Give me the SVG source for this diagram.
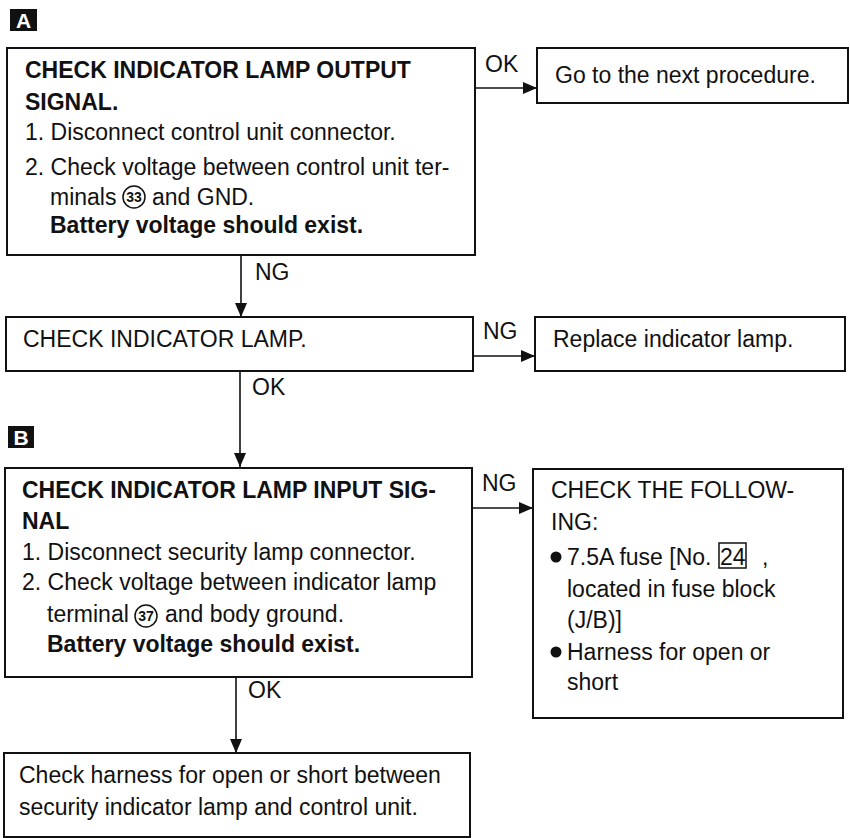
<svg xmlns="http://www.w3.org/2000/svg" width="850" height="838" viewBox="0 0 850 838">
<style>
text{font-family:"Liberation Sans",Arial,Helvetica,sans-serif;font-size:23px;fill:#111}
.b{font-weight:bold}
.box{fill:#fff;stroke:#111;stroke-width:2}
.ln{stroke:#111;stroke-width:1.6;fill:none}
.lbl{fill:#fff;font-weight:bold;font-size:21px}
.circ{fill:none;stroke:#111;stroke-width:1.5}
.num{font-size:14px;font-weight:bold}
</style>
<defs>
<marker id="ah" viewBox="0 0 14 12" refX="14" refY="6" markerWidth="14" markerHeight="12" markerUnits="userSpaceOnUse" orient="auto">
<path d="M0,0 L14,6 L0,12 Z" fill="#111"/>
</marker>
</defs>
<g id="labelA"><rect x="10" y="9" width="27" height="22" fill="#111"/><text x="23.5" y="28" text-anchor="middle" class="lbl">A</text></g>
<g id="labelB"><rect x="8" y="426" width="26" height="22" fill="#111"/><text x="21" y="444.5" text-anchor="middle" class="lbl">B</text></g>
<g id="connectors">
<line class="ln" x1="475" y1="88" x2="537" y2="88" marker-end="url(#ah)"/>
<text x="485" y="72">OK</text>
<line class="ln" x1="241" y1="255" x2="241" y2="317" marker-end="url(#ah)"/>
<text x="255" y="280">NG</text>
<line class="ln" x1="473" y1="356" x2="535" y2="356" marker-end="url(#ah)"/>
<text x="483" y="339">NG</text>
<line class="ln" x1="240" y1="371" x2="240" y2="467" marker-end="url(#ah)"/>
<text x="252" y="395">OK</text>
<line class="ln" x1="472" y1="508" x2="533" y2="508" marker-end="url(#ah)"/>
<text x="482" y="491">NG</text>
<line class="ln" x1="236" y1="677" x2="236" y2="753" marker-end="url(#ah)"/>
<text x="248" y="698">OK</text>
</g>
<g id="n1">
<rect class="box" x="7" y="48" width="468" height="207"/>
<text x="25" y="78" class="b">CHECK INDICATOR LAMP OUTPUT</text>
<text x="25" y="110" class="b">SIGNAL.</text>
<text x="25" y="140">1. Disconnect control unit connector.</text>
<text x="25" y="175">2. Check voltage between control unit ter-</text>
<text x="50" y="205">minals</text>
<circle class="circ" cx="134" cy="197" r="11"/>
<text x="134" y="202" text-anchor="middle" class="num">33</text>
<text x="152" y="205">and GND.</text>
<text x="50" y="233" class="b">Battery voltage should exist.</text>
</g>
<g id="n2">
<rect class="box" x="537" y="48" width="311" height="55"/>
<text x="555" y="83">Go to the next procedure.</text>
</g>
<g id="n3">
<rect class="box" x="6" y="317" width="467" height="54"/>
<text x="23" y="347">CHECK INDICATOR LAMP.</text>
</g>
<g id="n4">
<rect class="box" x="535" y="317" width="310" height="54"/>
<text x="553" y="347">Replace indicator lamp.</text>
</g>
<g id="n5">
<rect class="box" x="5" y="468" width="467" height="209"/>
<text x="22" y="498" class="b">CHECK INDICATOR LAMP INPUT SIG-</text>
<text x="22" y="529" class="b">NAL</text>
<text x="22" y="560">1. Disconnect security lamp connector.</text>
<text x="22" y="590">2. Check voltage between indicator lamp</text>
<text x="47" y="622">terminal</text>
<circle class="circ" cx="146" cy="616" r="11"/>
<text x="146" y="621" text-anchor="middle" class="num">37</text>
<text x="165" y="622">and body ground.</text>
<text x="47" y="652" class="b">Battery voltage should exist.</text>
</g>
<g id="n6">
<rect class="box" x="533" y="469" width="310" height="249"/>
<text x="551" y="498">CHECK THE FOLLOW-</text>
<text x="551" y="530">ING:</text>
<circle cx="556" cy="557" r="5.5" fill="#111"/>
<text x="567" y="565">7.5A fuse [No.</text>
<rect x="719" y="543" width="27" height="25" fill="none" stroke="#111" stroke-width="1.5"/>
<text x="720" y="565">24</text>
<text x="762" y="565">,</text>
<text x="567" y="597">located in fuse block</text>
<text x="567" y="628">(J/B)]</text>
<circle cx="556" cy="652" r="5.5" fill="#111"/>
<text x="567" y="660">Harness for open or</text>
<text x="567" y="690">short</text>
</g>
<g id="n7">
<rect class="box" x="4" y="753" width="466" height="84"/>
<text x="19" y="783">Check harness for open or short between</text>
<text x="19" y="815">security indicator lamp and control unit.</text>
</g>
</svg>
